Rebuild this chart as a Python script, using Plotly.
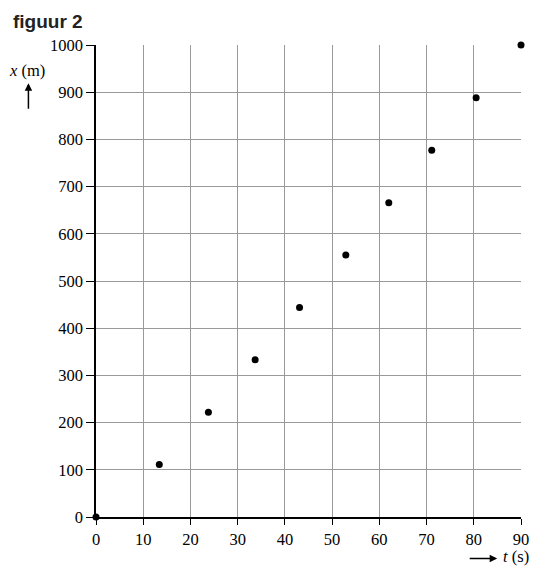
import plotly.graph_objects as go

t_values = [0, 13.4, 23.8, 33.7, 43.1, 52.9, 62.0, 71.1, 80.5, 90]
x_values = [0, 111, 222, 333, 444, 555, 666, 777, 888, 1000]
x_ticks = [0, 10, 20, 30, 40, 50, 60, 70, 80, 90]
y_ticks = [0, 100, 200, 300, 400, 500, 600, 700, 800, 900, 1000]

fig = go.Figure()
fig.add_trace(go.Scatter(
    x=t_values, y=x_values, mode="markers",
    marker=dict(color="black", size=7),
    cliponaxis=False, showlegend=False,
))

serif = "Liberation Serif"
fig.update_layout(
    width=549, height=564,
    margin=dict(l=88, r=36, t=37, b=55),
    paper_bgcolor="white", plot_bgcolor="white",
    font=dict(family=serif, size=16, color="black"),
    xaxis=dict(
        range=[0, 90], tickvals=x_ticks, showgrid=True, gridcolor="#9a9a9a", gridwidth=1,
        showline=True, linecolor="black", linewidth=1.5, ticks="outside", ticklen=6,
        tickcolor="black", zeroline=False, fixedrange=True,
        tickfont=dict(family=serif, size=16.5),
    ),
    yaxis=dict(
        range=[0, 1000], tickvals=y_ticks, showgrid=True, gridcolor="#9a9a9a", gridwidth=1,
        showline=True, linecolor="black", linewidth=1.5, ticks="outside", ticklen=8,
        tickcolor="black", zeroline=False, fixedrange=True,
        tickfont=dict(family=serif, size=16.5),
    ),
    annotations=[
        dict(text="<b>figuur 2</b>", xref="paper", yref="paper", x=-0.2, y=1.077,
             xanchor="left", yanchor="top", showarrow=False,
             font=dict(family="Liberation Sans", size=19, color="#222")),
        dict(text="<i>x</i> (m)", xref="paper", yref="paper", x=-0.162, y=0.946,
             xanchor="center", yanchor="middle", showarrow=False,
             font=dict(family=serif, size=16.5)),
        dict(text="", xref="paper", yref="paper", x=-0.159, y=0.919,
             ax=0, ay=27, showarrow=True, arrowhead=2, arrowsize=1, arrowwidth=1.5,
             arrowcolor="black"),
        dict(text="<i>t</i> (s)", xref="paper", yref="paper", x=0.988, y=-0.084,
             xanchor="center", yanchor="middle", showarrow=False,
             font=dict(family=serif, size=16.5)),
        dict(text="", xref="paper", yref="paper", x=0.944, y=-0.088,
             ax=-29, ay=0, showarrow=True, arrowhead=2, arrowsize=1, arrowwidth=1.5,
             arrowcolor="black"),
    ],
)

fig.write_html("out.html")
